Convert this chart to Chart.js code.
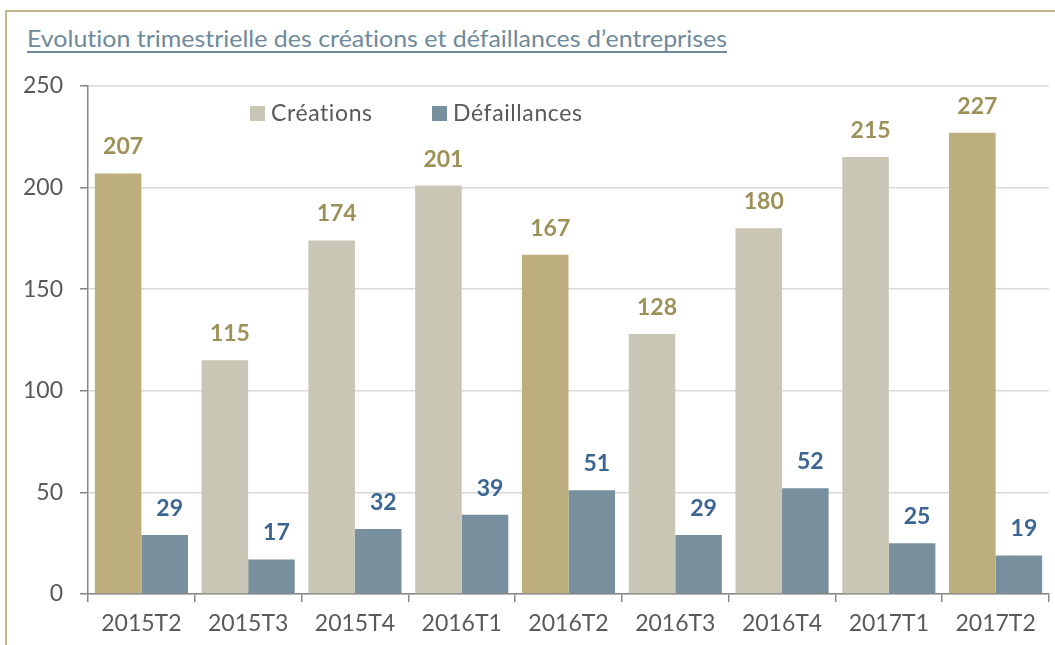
<!DOCTYPE html>
<html>
<head>
<meta charset="utf-8">
<script src="https://cdn.jsdelivr.net/npm/chart.js@4"></script>
<style>
  html, body { margin: 0; padding: 0; background: #fff; }
  #wrap { position: relative; width: 1055px; height: 645px; overflow: hidden; }
  #frame { position: absolute; left: 5px; top: 10px; width: 1060px; height: 650px;
           border-top: 2.5px solid #c6b888; border-left: 2.5px solid #c6b888; box-sizing: border-box; }
  #title { position: absolute; left: 27px; top: 24px; font-family: Lato, sans-serif; font-size: 23px;
           color: #6f8a9b; text-decoration: underline; text-decoration-thickness: 1.5px;
           text-underline-offset: 4px; white-space: nowrap; transform-origin: left top;
           font-variant-ligatures: none; }
  canvas { position: absolute; left: 0; top: 0; }
</style>
</head>
<body>
<div id="wrap">
  <div id="frame"></div>
  <div id="title">Evolution trimestrielle des créations et défaillances d’entreprises</div>
  <canvas id="c" width="1055" height="645"></canvas>
</div>
<script>
const categories = ['2015T2','2015T3','2015T4','2016T1','2016T2','2016T3','2016T4','2017T1','2017T2'];
const creations = [207, 115, 174, 201, 167, 128, 180, 215, 227];
const defaillances = [29, 17, 32, 39, 51, 29, 52, 25, 19];
const highlighted = ['2015T2','2016T2','2017T2'];
const seriesNames = ['Créations', 'Défaillances'];
const yTicks = [0, 50, 100, 150, 200, 250];

// fit title width to reference
(function(){
  const t = document.getElementById('title');
  const w = t.getBoundingClientRect().width;
  t.style.transform = 'scaleX(' + (700 / w) + ')';
})();

const COL_LIGHT = '#c9c6b6', COL_HI = '#bcaf7d', COL_DEF = '#788f9e';
const LBL_CRE = '#9d9158', LBL_DEF = '#3b6593';
const FONT = 'Lato, sans-serif';

const valueLabels = {
  id: 'valueLabels',
  afterDatasetsDraw(chart) {
    const ctx = chart.ctx;
    ctx.save();
    ctx.font = 'bold 23px ' + FONT;
    ctx.textAlign = 'center';
    ctx.textBaseline = 'alphabetic';
    chart.data.datasets.forEach((ds, di) => {
      const meta = chart.getDatasetMeta(di);
      ctx.fillStyle = di === 0 ? LBL_CRE : LBL_DEF;
      meta.data.forEach((bar, i) => {
        ctx.fillText(String(ds.data[i]), bar.x + 5, bar.y - 19);
      });
    });
    ctx.restore();
  }
};

const customLegend = {
  id: 'customLegend',
  afterDraw(chart) {
    const ctx = chart.ctx;
    ctx.save();
    ctx.font = '23px ' + FONT;
    ctx.textBaseline = 'middle';
    if ('letterSpacing' in ctx) ctx.letterSpacing = '0.6px';
    const items = [
      { x: 250, color: COL_LIGHT, text: seriesNames[0] },
      { x: 432, color: COL_DEF, text: seriesNames[1] }
    ];
    items.forEach(it => {
      ctx.fillStyle = it.color;
      ctx.fillRect(it.x, 106, 15, 15);
      ctx.fillStyle = '#595959';
      ctx.fillText(it.text, it.x + 21, 114);
    });
    ctx.restore();
  }
};

new Chart(document.getElementById('c'), {
  type: 'bar',
  data: {
    labels: categories,
    datasets: [
      { label: seriesNames[0], data: creations,
        backgroundColor: categories.map(c => highlighted.includes(c) ? COL_HI : COL_LIGHT),
        categoryPercentage: 0.872, barPercentage: 1.0, borderWidth: 0 },
      { label: seriesNames[1], data: defaillances, backgroundColor: COL_DEF,
        categoryPercentage: 0.872, barPercentage: 1.0, borderWidth: 0 }
    ]
  },
  plugins: [valueLabels, customLegend],
  options: {
    responsive: false,
    animation: false,
    devicePixelRatio: 1,
    layout: { padding: { left: 0, right: 6, top: 86, bottom: 0 } },
    plugins: { legend: { display: false }, title: { display: false }, tooltip: { enabled: false } },
    scales: {
      x: {
        offset: true,
        grid: { display: true, offset: true, drawOnChartArea: false, drawTicks: true,
                tickLength: 8, color: '#868686', lineWidth: 1.5 },
        border: { display: true, color: '#868686', width: 1.5 },
        ticks: { color: '#595959', font: { family: FONT, size: 23 }, padding: 8, maxRotation: 0 },
        afterFit(s) { s.height = 51; }
      },
      y: {
        min: 0, max: 250,
        afterBuildTicks(s) { s.ticks = yTicks.map(v => ({ value: v })); },
        grid: { color: '#d9d9d9', lineWidth: 1.5, tickColor: '#868686', tickLength: 8, drawTicks: true },
        border: { display: true, color: '#868686', width: 1.5 },
        ticks: { color: '#595959', font: { family: FONT, size: 23 }, padding: 17 },
        afterFit(s) { s.width = 88; }
      }
    }
  }
});
</script>
</body>
</html>
